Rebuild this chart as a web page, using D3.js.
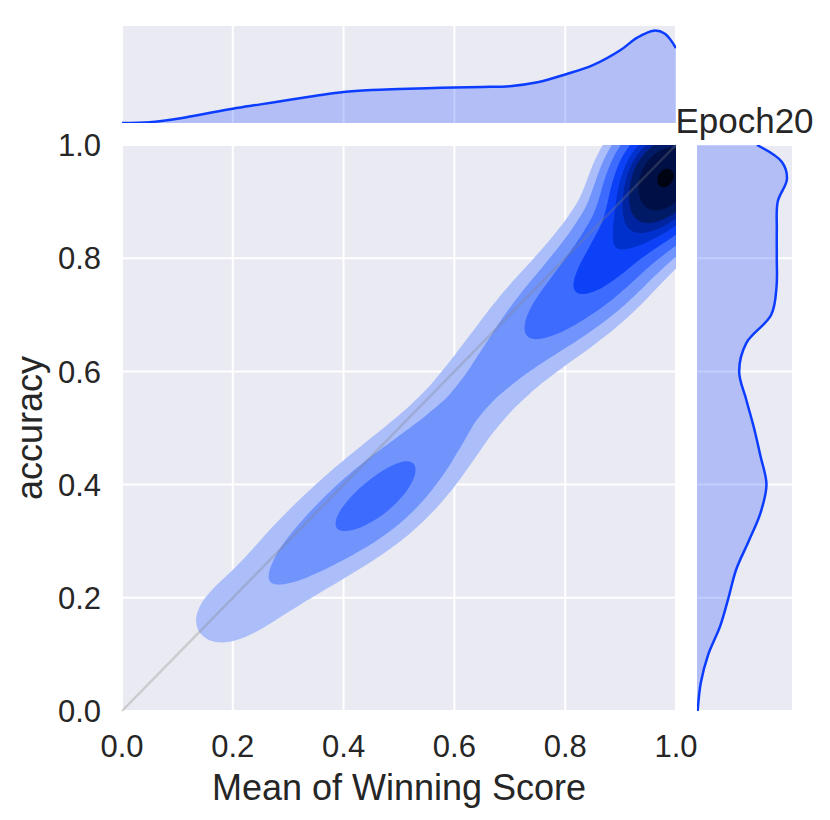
<!DOCTYPE html>
<html><head><meta charset="utf-8">
<script src="https://cdn.jsdelivr.net/npm/d3@7"></script>
<style>body{margin:0;background:#fff}text{font-family:"Liberation Sans",Arial,sans-serif;fill:#262626}</style>
</head><body><svg id="c" width="830" height="820"></svg>
<script>
// ---------------- data ----------------
const tickValues = [0, 0.2, 0.4, 0.6, 0.8, 1.0];
const tickLabels = ["0.0", "0.2", "0.4", "0.6", "0.8", "1.0"];
const xLabel = "Mean of Winning Score";
const yLabel = "accuracy";
const title = "Epoch20";

// estimated sample cloud (x = mean of winning score, y = accuracy, w = weight)
const sampleX = [0.14,0.17,0.21,0.25, 0.29,0.33,0.37,0.41,0.45,0.49,0.53,0.57, 0.61,0.65,0.69, 0.73,0.77,0.81,0.85, 0.88,0.91,0.94,0.96,0.985,1.0,0.99,0.95,1.0,0.995,1.0];
const sampleY = [0.15,0.16,0.18,0.21, 0.25,0.28,0.31,0.34,0.37,0.40,0.44,0.48, 0.53,0.58,0.62, 0.665,0.70,0.73,0.77, 0.80,0.84,0.88,0.92,0.955,0.97,0.99,0.97,0.90,0.91,0.95];
const sampleW = [0.35,0.6,0.7,0.85, 1.05,1.3,1.55,1.95,2.25,2.25,1.95,1.55, 1.35,1.35,1.45, 1.85,2.3,2.9,3.3, 3.6,4.2,5.0,5.0,10.0,6.0,3.0,2.0,2.0,3.0,4.0];

// marginal densities
const margXGrid = [0,0.05,0.1,0.15,0.2,0.25,0.3,0.35,0.4,0.45,0.5,0.55,0.6,0.65,0.7,0.75,0.8,0.85,0.9,0.93,0.96,0.98,1.0];
const margXDens = [0.0,0.02,0.11,0.24,0.37,0.48,0.59,0.70,0.80,0.85,0.875,0.895,0.915,0.93,0.95,1.05,1.25,1.49,1.88,2.2,2.38,2.3,1.93];
const margYGrid = [0,0.05,0.1,0.15,0.2,0.25,0.3,0.35,0.4,0.45,0.5,0.55,0.6,0.65,0.7,0.75,0.8,0.85,0.9,0.94,0.97,1.0];
const margYDens = [0.011,0.064,0.19,0.39,0.53,0.66,0.87,1.07,1.17,1.07,0.96,0.83,0.71,0.83,1.25,1.34,1.344,1.344,1.36,1.515,1.43,1.01];

// contour levels (fraction of peak density) and band colours
const levelFrac = [0.035, 0.08, 0.15, 0.25, 0.36, 0.46, 0.56, 0.72, 0.97];
const bandColors = ["#abbefa","#7194fc","#3d6bfe","#0d41f8","#0031cc","#0024a0","#001a66","#000f45","#000412"];

// ---------------- layout ----------------
const M = {l:122, r:676, t:145, b:711};
const TOP = {t:26, b:123};
const RIGHT = {l:697, r:792};
const lineColor = "#0b3cff";
const bg = "#eaeaf2";

const svg = d3.select("#c");
const xs = d3.scaleLinear().domain([0,1]).range([M.l, M.r]);
const ys = d3.scaleLinear().domain([0,1]).range([M.b, M.t]);

svg.append("rect").attr("x",M.l).attr("y",M.t).attr("width",M.r-M.l).attr("height",M.b-M.t).attr("fill",bg);
svg.append("rect").attr("x",M.l).attr("y",TOP.t).attr("width",M.r-M.l).attr("height",TOP.b-TOP.t).attr("fill",bg);
svg.append("rect").attr("x",RIGHT.l).attr("y",M.t).attr("width",RIGHT.r-RIGHT.l).attr("height",M.b-M.t).attr("fill",bg);

const defs = svg.append("defs");
defs.append("clipPath").attr("id","cm").append("rect").attr("x",M.l).attr("y",M.t).attr("width",M.r-M.l).attr("height",M.b-M.t);
defs.append("clipPath").attr("id","ct").append("rect").attr("x",M.l).attr("y",TOP.t).attr("width",M.r-M.l).attr("height",TOP.b-TOP.t);
defs.append("clipPath").attr("id","cr").append("rect").attr("x",RIGHT.l).attr("y",M.t).attr("width",RIGHT.r-RIGHT.l).attr("height",M.b-M.t);

const grid = svg.append("g").attr("stroke","#fff").attr("stroke-width",2);
tickValues.forEach(v => {
  grid.append("line").attr("x1",xs(v)).attr("x2",xs(v)).attr("y1",M.t).attr("y2",M.b);
  grid.append("line").attr("y1",ys(v)).attr("y2",ys(v)).attr("x1",M.l).attr("x2",M.r);
  grid.append("line").attr("x1",xs(v)).attr("x2",xs(v)).attr("y1",TOP.t).attr("y2",TOP.b);
  grid.append("line").attr("y1",ys(v)).attr("y2",ys(v)).attr("x1",RIGHT.l).attr("x2",RIGHT.r);
});

// ---------------- 2D density (rotated frame: u along diagonal, v across) ----------------
const S2 = Math.SQRT1_2, Su = 400, Sv = 470, vMin = -0.5;
const pts = sampleX.map((x,i) => ({u:(x+sampleY[i])*S2, v:(sampleY[i]-x)*S2, w:sampleW[i]}));
function makeDensity(){
  return d3.contourDensity()
    .x(d => d.u*Su).y(d => (d.v - vMin)*Sv)
    .weight(d => d.w)
    .size([Math.SQRT2*Su, 1.0*Sv])
    .cellSize(2).bandwidth(21);
}
let maxV;
const dd = makeDensity();
if (dd.contours) { maxV = dd.contours(pts).max; }
else { const cs = makeDensity().thresholds(400)(pts); maxV = cs[cs.length-1].value; }
const thresholds = levelFrac.map(f => f*maxV);
const contours = makeDensity().thresholds(thresholds)(pts);
const proj = d3.geoTransform({point: function(px, py){
  const u = px/Su, v = py/Sv + vMin;
  const x = (u - v)*S2, y = (u + v)*S2;
  this.stream.point(xs(x), ys(y));
}});
const path = d3.geoPath(proj);
svg.append("g").attr("clip-path","url(#cm)")
  .selectAll("path").data(contours).join("path")
  .attr("d", path)
  .attr("fill", (d,i) => bandColors[Math.min(i, bandColors.length-1)]);

svg.append("line").attr("x1",xs(0)).attr("y1",ys(0)).attr("x2",xs(1)).attr("y2",ys(1))
  .attr("stroke","#808080").attr("stroke-opacity",0.3).attr("stroke-width",2.5);

// ---------------- marginals ----------------
const tyScale = d3.scaleLinear().domain([0,2.5]).range([TOP.b, TOP.t]);
const topData = margXGrid.map((x,i)=>[x, margXDens[i]]);
const gTop = svg.append("g").attr("clip-path","url(#ct)");
gTop.append("path").datum(topData)
  .attr("d", d3.area().x(d=>xs(d[0])).y0(TOP.b).y1(d=>tyScale(d[1])).curve(d3.curveCatmullRom))
  .attr("fill", lineColor).attr("fill-opacity",0.25);
gTop.append("path").datum(topData)
  .attr("d", d3.line().x(d=>xs(d[0])).y(d=>tyScale(d[1])).curve(d3.curveCatmullRom))
  .attr("fill","none").attr("stroke",lineColor).attr("stroke-width",2.5);

const rxScale = d3.scaleLinear().domain([0,1.6]).range([RIGHT.l, RIGHT.r]);
const rData = margYGrid.map((y,i)=>[y, margYDens[i]]);
const gR = svg.append("g").attr("clip-path","url(#cr)");
gR.append("path").datum(rData)
  .attr("d", d3.area().y(d=>ys(d[0])).x0(RIGHT.l).x1(d=>rxScale(d[1])).curve(d3.curveCatmullRom))
  .attr("fill", lineColor).attr("fill-opacity",0.25);
gR.append("path").datum(rData)
  .attr("d", d3.line().y(d=>ys(d[0])).x(d=>rxScale(d[1])).curve(d3.curveCatmullRom))
  .attr("fill","none").attr("stroke",lineColor).attr("stroke-width",2.5);

// ---------------- text ----------------
const tickFont = 31, labFont = 36;
svg.append("g").selectAll("text").data(tickValues).join("text")
  .attr("x", d=>xs(d)).attr("y", 757).attr("text-anchor","middle")
  .style("font-size", tickFont+"px").text((d,i)=>tickLabels[i]);
svg.append("g").selectAll("text").data(tickValues).join("text")
  .attr("x", 101).attr("y", d=>ys(d)).attr("dy","0.36em").attr("text-anchor","end")
  .style("font-size", tickFont+"px").text((d,i)=>tickLabels[i]);
svg.append("text").attr("x",(M.l+M.r)/2).attr("y",800).attr("text-anchor","middle")
  .style("font-size", labFont+"px").text(xLabel);
svg.append("text").attr("transform",`translate(42,${(M.t+M.b)/2}) rotate(-90)`).attr("text-anchor","middle")
  .style("font-size", labFont+"px").text(yLabel);
svg.append("text").attr("x",(RIGHT.l+RIGHT.r)/2).attr("y",133).attr("text-anchor","middle")
  .style("font-size", "35px").text(title);
</script></body></html>
